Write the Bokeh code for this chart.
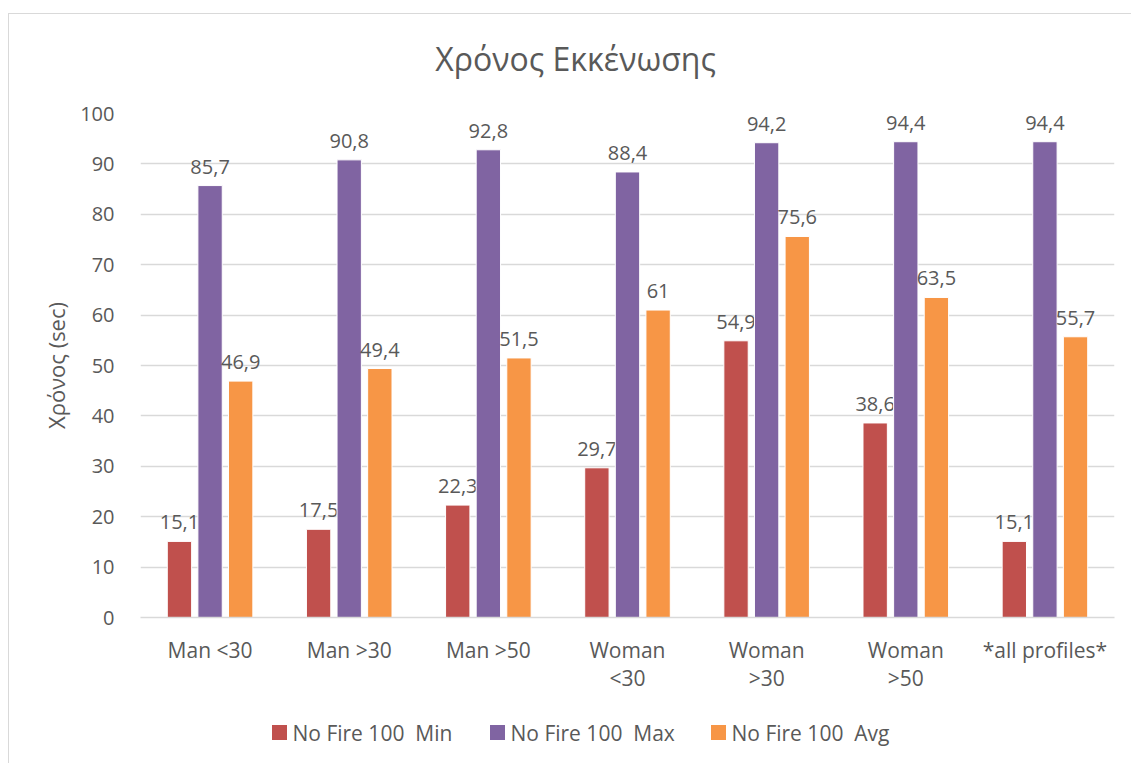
from bokeh.plotting import figure
from bokeh.layouts import column
from bokeh.models import ColumnDataSource, FixedTicker, Range1d
from bokeh.core.properties import value
from bokeh.embed import file_html
from bokeh.resources import INLINE

# Evacuation time per occupant profile (seconds)
chart_title = "Χρόνος Εκκένωσης"
categories = ["Man <30", "Man >30", "Man >50", "Woman <30", "Woman >30",
              "Woman >50", "*all profiles*"]
tick_labels = ["Man <30", "Man >30", "Man >50", "Woman\n<30", "Woman\n>30",
               "Woman\n>50", "*all profiles*"]
series_names = ["No Fire 100  Min", "No Fire 100  Max", "No Fire 100  Avg"]
min_values = [15.1, 17.5, 22.3, 29.7, 54.9, 38.6, 15.1]
max_values = [85.7, 90.8, 92.8, 88.4, 94.2, 94.4, 94.4]
avg_values = [46.9, 49.4, 51.5, 61.0, 75.6, 63.5, 55.7]
y_ticks = [0, 10, 20, 30, 40, 50, 60, 70, 80, 90, 100]

colors = ["#C0504D", "#8064A2", "#F79646"]
offsets = [-0.22, 0.0, 0.22]
FONT = "Open Sans"
TEXT = "#595959"
GRID = "#D9D9D9"

W = 1122
BORDER_L, BORDER_R = 131, 17          # plot-frame side borders shared by all strips


def strip(height):
    """A bare strip whose x data units are pixels from the strip's left edge."""
    s = figure(width=W, height=height, output_backend="svg", toolbar_location=None,
               x_range=Range1d(BORDER_L, W - BORDER_R), y_range=Range1d(0, height),
               x_axis_type=None, y_axis_type=None,
               min_border_left=BORDER_L, min_border_right=BORDER_R,
               min_border_top=0, min_border_bottom=0)
    s.outline_line_color = None
    s.xgrid.grid_line_color = None
    s.ygrid.grid_line_color = None
    return s


# Title strip
TITLE_H = 70
tt = strip(TITLE_H)
tt.text(x=[566], y=[26], text=[chart_title], text_align="center",
        text_baseline="middle", text_color=TEXT, text_font_size="32px",
        text_font=value(FONT))

# Main bar chart
p = figure(width=W, height=616, output_backend="svg", toolbar_location=None,
           x_range=Range1d(-0.5, len(categories) - 0.5), y_range=Range1d(0, 100),
           min_border_left=BORDER_L, min_border_right=BORDER_R, min_border_top=29,
           min_border_bottom=83)
p.outline_line_color = None
p.background_fill_color = "white"
p.border_fill_color = "white"

series = [min_values, max_values, avg_values]
for vals, col, off in zip(series, colors, offsets):
    xs = [i + off for i in range(len(categories))]
    labels = [f"{v:g}".replace(".", ",") for v in vals]
    src = ColumnDataSource(dict(x=xs, top=vals, label=labels, cat=categories))
    p.vbar(x="x", top="top", width=0.175, bottom=0, source=src,
           fill_color=col, line_color="white", line_width=1)
    p.text(x="x", y="top", text="label", source=src, text_align="center",
           text_baseline="bottom", y_offset=-12, text_color=TEXT,
           text_font_size="20px", text_font=value(FONT))

# Axes
p.xaxis.ticker = FixedTicker(ticks=list(range(len(categories))))
p.xaxis.major_label_overrides = {i: t for i, t in enumerate(tick_labels)}
p.xaxis.major_tick_line_color = None
p.xaxis.minor_tick_line_color = None
p.xaxis.axis_line_color = GRID
p.xaxis.axis_line_width = 1.5
p.xaxis.major_label_text_font = FONT
p.xaxis.major_label_text_font_size = "21px"
p.xaxis.major_label_text_line_height = 1.0
p.xaxis.major_label_text_color = TEXT
p.xaxis.major_label_standoff = 12

p.yaxis.ticker = FixedTicker(ticks=y_ticks)
p.yaxis.axis_label = "Χρόνος (sec)"
p.yaxis.axis_label_text_font = FONT
p.yaxis.axis_label_text_font_size = "22px"
p.yaxis.axis_label_text_font_style = "normal"
p.yaxis.axis_label_text_color = TEXT
p.yaxis.axis_label_standoff = 6
p.yaxis.major_tick_line_color = None
p.yaxis.minor_tick_line_color = None
p.yaxis.axis_line_color = None
p.yaxis.major_label_text_font = FONT
p.yaxis.major_label_text_font_size = "20px"
p.yaxis.major_label_text_color = TEXT
p.yaxis.major_label_standoff = 20

p.xgrid.grid_line_color = None
p.ygrid.grid_line_color = GRID
p.ygrid.grid_line_width = 1.5

# Legend strip under the chart
LG_H = 63
legend_swatch_x = [270, 488, 709]   # swatch centres
legend_row_y = 31
lg = strip(LG_H)
leg_src = ColumnDataSource(dict(
    x=legend_swatch_x,
    tx=[x + 13 for x in legend_swatch_x],
    y=[legend_row_y] * len(series_names),
    color=colors,
    name=[n.replace("  ", " \u00a0") for n in series_names],
))
lg.scatter(x="x", y="y", marker="square", size=15, fill_color="color",
           line_color=None, source=leg_src)
lg.text(x="tx", y="y", text="name", source=leg_src, text_align="left",
        text_baseline="middle", text_color=TEXT, text_font_size="21px",
        text_font=value(FONT))

# Light chart frame around all parts
page = column(tt, p, lg, spacing=0, margin=(13, 0, 0, 8),
              styles={"border-top": "1px solid #D9D9D9",
                      "border-left": "1px solid #D9D9D9"})

open("out.html", "w").write(file_html(page, INLINE))
